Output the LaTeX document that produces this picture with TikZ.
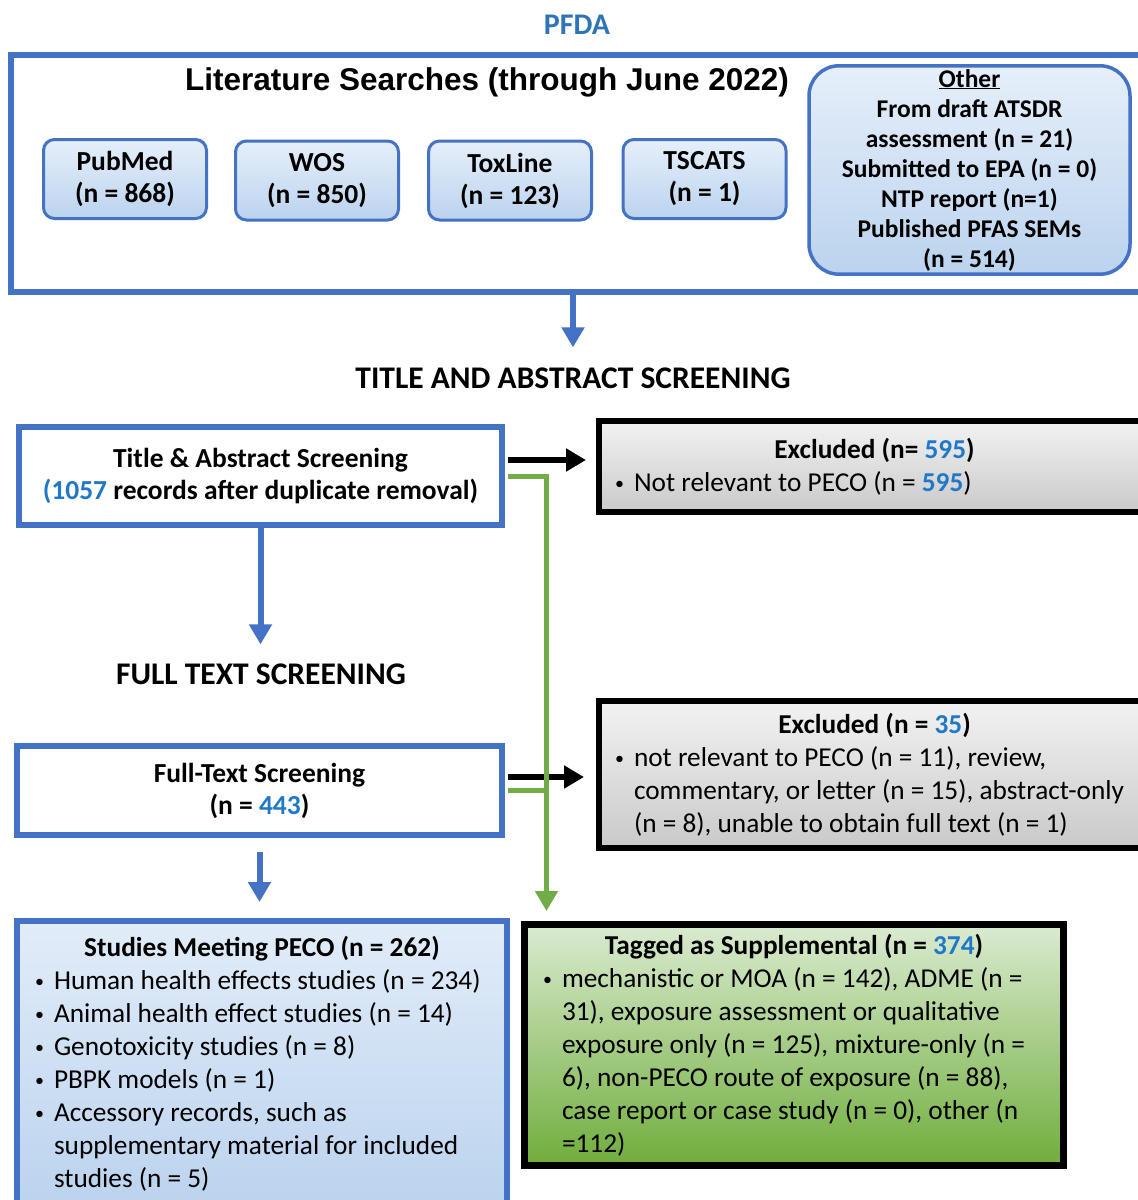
\documentclass[tikz,border=0pt]{standalone}
\usepackage{fontspec}
\setmainfont{Carlito}
\newfontfamily\headfont{Liberation Sans}
\usetikzlibrary{arrows.meta,positioning}

\definecolor{boxblue}{HTML}{4472C4}
\definecolor{numblue}{HTML}{1F78C8}
\definecolor{titleblue}{HTML}{2E75B6}
\definecolor{linegreen}{HTML}{70AD47}
\definecolor{paleblue}{HTML}{E6EFFA}
\definecolor{midblue}{HTML}{BBD3EE}
\definecolor{palegreen}{HTML}{DAEBD0}
\definecolor{deepgreen}{HTML}{70AD3C}

\newcommand{\nb}[1]{\textcolor{numblue}{#1}}
\newcommand{\bul}{\makebox[21pt][l]{\hspace{2pt}\raisebox{2pt}{\fontsize{18}{18}\selectfont\textbullet}}}
\newcommand{\ind}{\hspace*{21pt}}

\begin{document}
\begin{tikzpicture}[x=1pt,y=-1pt,>={Triangle[width=22pt,length=20pt]},
    stage head/.style={inner sep=0pt,font=\bfseries\fontsize{31.5}{36}\selectfont},
    src node/.style={draw=boxblue,line width=3pt,rounded corners=11pt,
      top color=paleblue,bottom color=midblue,minimum width=163pt,
      minimum height=79pt,align=center,font=\bfseries\fontsize{27.5}{32}\selectfont},
    screen box/.style={draw=boxblue,line width=6pt,fill=white,align=center,
      font=\bfseries\fontsize{27.5}{32}\selectfont},
    excl box/.style={draw=black,line width=6pt,top color=gray!10,bottom color=gray!42,
      inner sep=0pt,align=flush left,font=\fontsize{27.3}{33}\selectfont},
    list box/.style={inner sep=0pt,align=flush left,font=\fontsize{27.3}{33}\selectfont},
    blue link/.style={->,draw=boxblue,line width=6pt},
    black link/.style={->,draw=black,line width=6pt},
    green link/.style={draw=linegreen,line width=5pt}]

\fill[white] (0,0) rectangle (1138,1200);
\path[use as bounding box,clip] (0,0) rectangle (1138,1200);

% literature searches
\node[font=\bfseries\fontsize{30}{34}\selectfont,text=titleblue,inner sep=0pt] (pfda) at (577,25) {PFDA};
\node[draw=boxblue,line width=6pt,minimum width=1139pt,minimum height=237pt] (search) at (580.5,173.5) {};
\node[inner sep=0pt,font=\headfont\bfseries\fontsize{31.5}{36}\selectfont] (littitle) at (487,82) {Literature Searches (through June 2022)};

\node[src node] (pubmed) at (125,179) {PubMed\\(n = 868)};
\node[src node] (wos) at (317,180.5) {WOS\\(n = 850)};
\node[src node] (toxline) at (510,180.5) {ToxLine\\(n = 123)};
\node[src node] (tscats) at (704.5,179) {TSCATS\\(n = 1)};
\node[src node,rounded corners=30pt,line width=3.5pt,minimum width=321pt,minimum height=205pt,
      font=\bfseries\fontsize{25.5}{30}\selectfont] (other) at (969.5,170)
  {\underline{Other}\\From draft ATSDR\\assessment (n = 21)\\Submitted to EPA (n = 0)\\NTP report (n=1)\\Published PFAS SEMs\\(n = 514)};

% title and abstract stage
\node[stage head] (tahead) at (573,378) {TITLE AND ABSTRACT SCREENING};
\node[screen box,minimum width=483pt,minimum height=98pt] (tabox) at (260.5,476)
  {Title \& Abstract Screening\\\nb{(1057} records after duplicate removal)};
\node[excl box,minimum width=551pt,minimum height=91pt,text width=523pt] (exc1) at (874.5,466.5)
  {\makebox[\hsize]{\textbf{Excluded (n= \nb{595})}}\\
   \bul Not relevant to PECO (n = \textbf{\nb{595}})};

% full text stage
\node[stage head] (fthead) at (261,674) {FULL TEXT SCREENING};
\node[screen box,minimum width=485pt,minimum height=89pt] (ftbox) at (259.5,790.5)
  {Full-Text Screening\\(n = \nb{443})};
\node[excl box,minimum width=551pt,minimum height=147pt,text width=523pt] (exc2) at (874.5,774.5)
  {\makebox[\hsize]{\textbf{Excluded (n = \nb{35})}}\\
   \bul not relevant to PECO (n = 11), review,\\
   \ind commentary, or letter (n = 15), abstract-only\\
   \ind (n = 8), unable to obtain full text (n = 1)};

% results
\node[list box,draw=boxblue,line width=6pt,top color=paleblue!90!midblue,bottom color=midblue,
      minimum width=490pt,minimum height=285pt,text width=458pt] (studies) at (262,1063.5)
  {\makebox[\hsize]{\textbf{Studies Meeting PECO (n = 262)}}\\
   \bul Human health effects studies (n = 234)\\
   \bul Animal health effect studies (n = 14)\\
   \bul Genotoxicity studies (n = 8)\\
   \bul PBPK models (n = 1)\\
   \bul Accessory records, such as\\
   \ind supplementary material for included\\
   \ind studies (n = 5)};
\node[list box,draw=black,line width=7pt,top color=palegreen,bottom color=deepgreen,
      minimum width=539pt,minimum height=241pt,text width=506pt] (tagged) at (794,1045)
  {\makebox[\hsize]{\textbf{Tagged as Supplemental (n = \nb{374})}}\\
   \bul mechanistic or MOA (n = 142), ADME (n =\\
   \ind 31), exposure assessment or qualitative\\
   \ind exposure only (n = 125), mixture-only (n =\\
   \ind 6), non-PECO route of exposure (n = 88),\\
   \ind case report or case study (n = 0), other (n\\
   \ind =112)};

% connectors
\coordinate (gcol) at (546.5,0);
\coordinate (taout) at ([yshift=16pt]tabox.east);
\coordinate (tagreen) at ([yshift=-0.5pt]tabox.east);
\coordinate (ftout) at ([yshift=13.5pt]ftbox.east);

\path
  (search.south -| tahead) edge[blue link,shorten >=20pt] (tahead.north)
  (tabox.south) edge[blue link,shorten >=19pt] (tabox.south |- fthead.north)
  (ftbox.south) edge[blue link,shorten <=14pt,shorten >=16pt] (ftbox.south |- studies.north);

\path
  (taout) edge[black link,shorten <=3pt,shorten >=10pt] (taout -| exc1.west)
  (ftout) edge[black link,shorten <=3pt,shorten >=12pt] (ftout -| exc2.west);

\draw[green link,->,shorten <=3pt,shorten >=10pt] (tagreen) -| (gcol |- tagged.north);
\draw[green link,shorten <=3pt] (ftbox.east) -- (ftbox.east -| gcol);
\end{tikzpicture}
\end{document}
